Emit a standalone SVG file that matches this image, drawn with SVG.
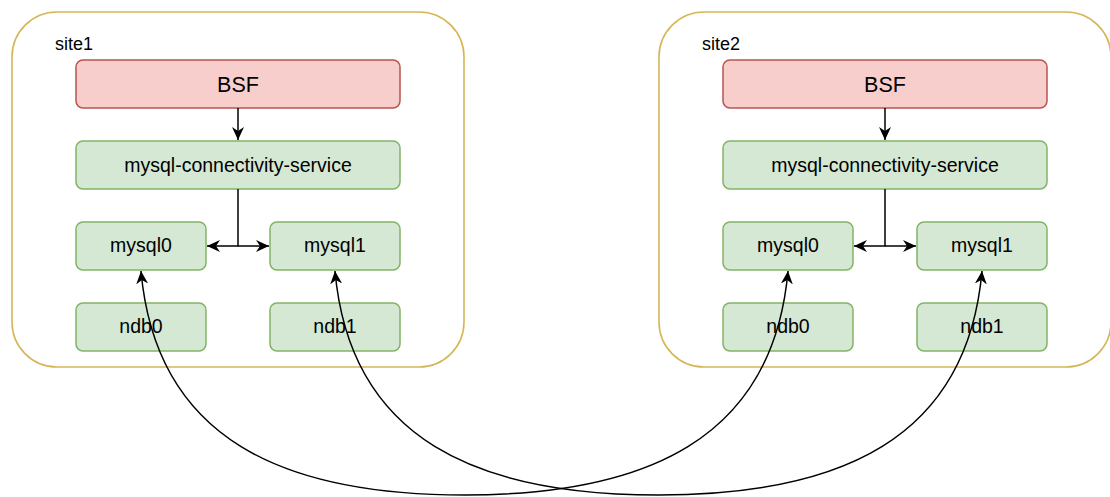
<svg xmlns="http://www.w3.org/2000/svg" width="1110" height="497" viewBox="0 0 1110 497">
<style>
.site{fill:#ffffff;stroke:#d6b656;stroke-width:1.6}
.red{fill:#f8cecc;stroke:#b85450;stroke-width:1.5}
.green{fill:#d5e8d4;stroke:#82b366;stroke-width:1.5}
text{font-family:"Liberation Sans",Arial,Helvetica,sans-serif;fill:#000;text-anchor:middle}
.lbl{font-size:19.5px}
.bsf{font-size:21.5px}
.sitelbl{font-size:18px;text-anchor:start}
.edge{fill:none;stroke:#000;stroke-width:1.5}
</style>
<defs>
<marker id="arr" markerUnits="userSpaceOnUse" markerWidth="14" markerHeight="13" refX="13" refY="6.5" orient="auto-start-reverse" viewBox="0 0 14 13">
<path d="M0,0.5 L13,6.5 L0,12.5 L4,6.5 Z" fill="#000"/>
</marker>
</defs>
<g id="site1">
<rect class="site" x="12" y="12" width="452" height="355" rx="45"/>
<text class="sitelbl" x="55" y="50">site1</text>
</g>
<g id="site2">
<rect class="site" x="659" y="12" width="452" height="355" rx="45"/>
<text class="sitelbl" x="702" y="50">site2</text>
</g>
<g id="s1-bsf"><rect class="red" x="76" y="60" width="324" height="48" rx="7"/><text class="bsf" x="238" y="92">BSF</text></g>
<g id="s1-mcs"><rect class="green" x="76" y="141" width="324" height="48" rx="7"/><text class="lbl" x="238" y="172">mysql-connectivity-service</text></g>
<g id="s1-mysql0"><rect class="green" x="76" y="222" width="130" height="48" rx="7"/><text class="lbl" x="141" y="252">mysql0</text></g>
<g id="s1-mysql1"><rect class="green" x="270" y="222" width="130" height="48" rx="7"/><text class="lbl" x="335" y="252">mysql1</text></g>
<g id="s1-ndb0"><rect class="green" x="76" y="303" width="130" height="48" rx="7"/><text class="lbl" x="141" y="333">ndb0</text></g>
<g id="s1-ndb1"><rect class="green" x="270" y="303" width="130" height="48" rx="7"/><text class="lbl" x="335" y="333">ndb1</text></g>
<g id="s2-bsf"><rect class="red" x="723" y="60" width="324" height="48" rx="7"/><text class="bsf" x="885" y="92">BSF</text></g>
<g id="s2-mcs"><rect class="green" x="723" y="141" width="324" height="48" rx="7"/><text class="lbl" x="885" y="172">mysql-connectivity-service</text></g>
<g id="s2-mysql0"><rect class="green" x="723" y="222" width="130" height="48" rx="7"/><text class="lbl" x="788" y="252">mysql0</text></g>
<g id="s2-mysql1"><rect class="green" x="917" y="222" width="130" height="48" rx="7"/><text class="lbl" x="982" y="252">mysql1</text></g>
<g id="s2-ndb0"><rect class="green" x="723" y="303" width="130" height="48" rx="7"/><text class="lbl" x="788" y="333">ndb0</text></g>
<g id="s2-ndb1"><rect class="green" x="917" y="303" width="130" height="48" rx="7"/><text class="lbl" x="982" y="333">ndb1</text></g>
<g id="connectors">
<path class="edge" d="M238,108 V140" marker-end="url(#arr)"/>
<path class="edge" d="M238,189 V246 H207" marker-end="url(#arr)"/>
<path class="edge" d="M238,246 H269" marker-end="url(#arr)"/>
<path class="edge" d="M885,108 V140" marker-end="url(#arr)"/>
<path class="edge" d="M885,189 V246 H854" marker-end="url(#arr)"/>
<path class="edge" d="M885,246 H916" marker-end="url(#arr)"/>
<path class="edge" d="M141,271 C156,440 284,495 464.5,495 C645,495 773,440 788,271" marker-start="url(#arr)" marker-end="url(#arr)"/>
<path class="edge" d="M335,271 C350,440 478,495 658.5,495 C839,495 967,440 982,271" marker-start="url(#arr)" marker-end="url(#arr)"/>
</g>
</svg>
